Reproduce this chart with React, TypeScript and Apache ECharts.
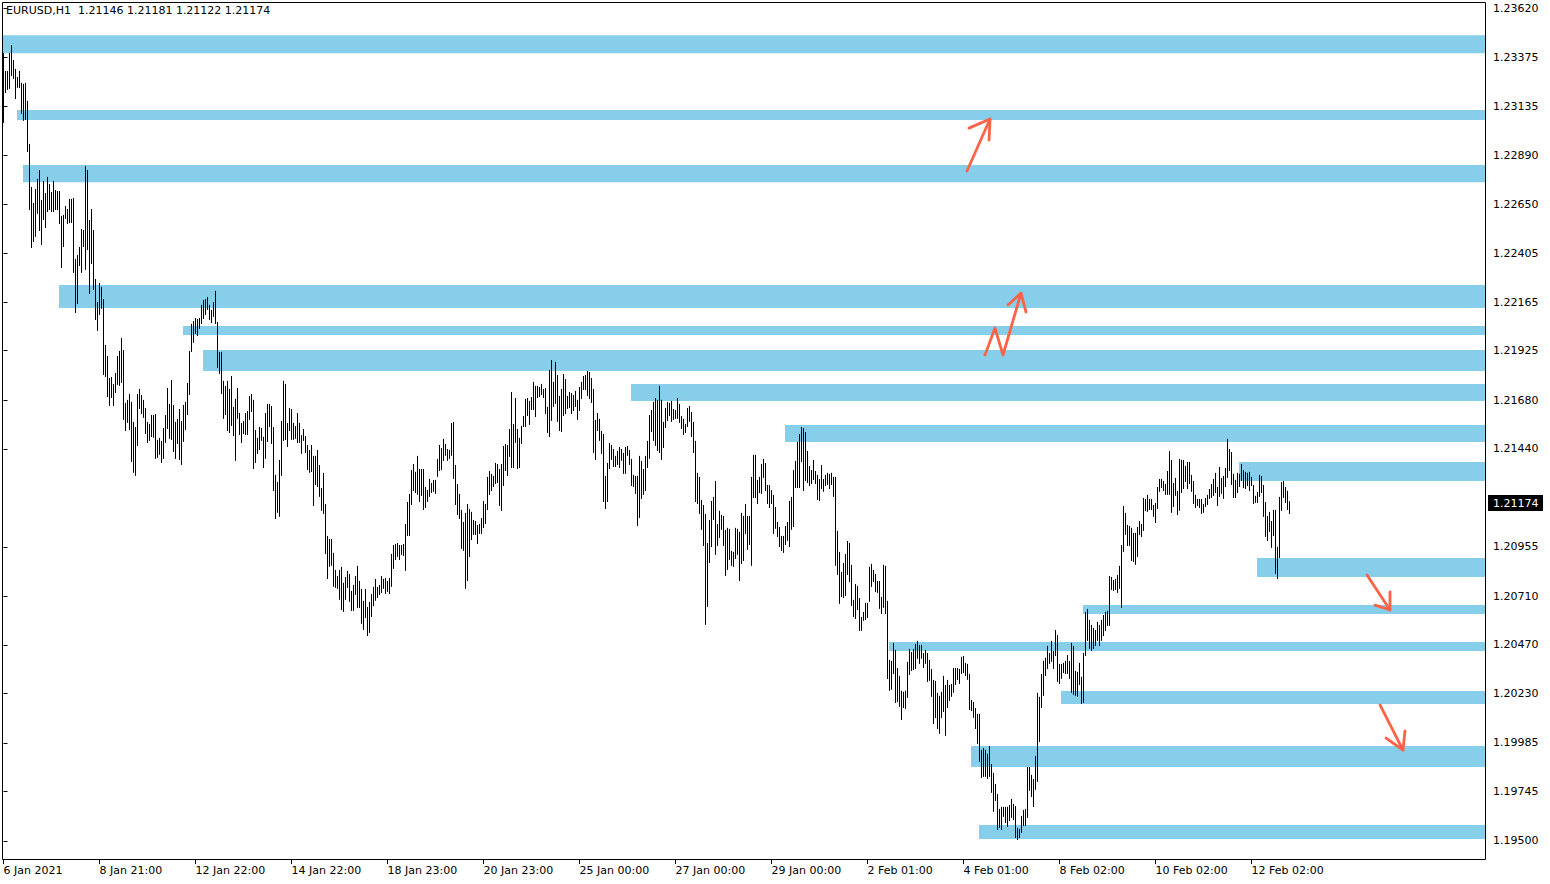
import React, { useEffect, useRef } from "react";
import * as echarts from "echarts";

const FONT = "DejaVu Sans";

const titleText = "EURUSD,H1  1.21146 1.21181 1.21122 1.21174";
const lastPrice = 1.21174;

// hourly bar highs / lows, bar index 0 = 6 Jan 2021 21:00
const barHigh = [
  1.23398,1.23309,1.23309,1.23398,1.23437,1.23363,1.23319,1.23279,1.23309,1.23250,1.23245,1.23250,1.23161,1.22948,1.22735,1.22656,1.22725,1.22775,1.22819,1.22671,
  1.22765,1.22705,1.22785,1.22750,1.22710,1.22765,1.22720,1.22715,1.22715,1.22592,1.22597,1.22641,1.22626,1.22676,1.22676,1.22681,1.22379,1.22399,1.22438,1.22527,
  1.22522,1.22839,1.22819,1.22572,1.22626,1.22522,1.22280,1.22166,1.22260,1.22241,1.22181,1.21954,1.21899,1.21790,1.21795,1.21761,1.21815,1.21899,1.21924,1.21988,
  1.21929,1.21667,1.21682,1.21711,1.21672,1.21573,1.21548,1.21711,1.21736,1.21706,1.21682,1.21642,1.21573,1.21563,1.21607,1.21607,1.21612,1.21484,1.21494,1.21479,
  1.21543,1.21607,1.21741,1.21662,1.21780,1.21657,1.21573,1.21588,1.21637,1.21578,1.21657,1.21672,1.21766,1.21924,1.22058,1.22072,1.22087,1.22082,1.22087,1.22152,
  1.22176,1.22181,1.22191,1.22152,1.22127,1.22166,1.22221,1.22067,1.21919,1.21919,1.21776,1.21751,1.21776,1.21736,1.21800,1.21647,1.21687,1.21741,1.21617,1.21568,
  1.21578,1.21617,1.21627,1.21701,1.21711,1.21682,1.21533,1.21494,1.21548,1.21543,1.21499,1.21617,1.21662,1.21662,1.21652,1.21548,1.21311,1.21276,1.21385,1.21578,
  1.21776,1.21761,1.21568,1.21642,1.21637,1.21568,1.21553,1.21617,1.21568,1.21508,1.21538,1.21503,1.21459,1.21434,1.21459,1.21405,1.21405,1.21434,1.21360,1.21246,
  1.21321,1.21167,1.21009,1.20994,1.20994,1.20925,1.20841,1.20811,1.20841,1.20856,1.20777,1.20806,1.20836,1.20821,1.20737,1.20767,1.20811,1.20861,1.20786,1.20747,
  1.20688,1.20747,1.20658,1.20683,1.20722,1.20757,1.20796,1.20757,1.20767,1.20811,1.20796,1.20801,1.20786,1.20801,1.20920,1.20964,1.20969,1.20974,1.20964,1.20964,
  1.20969,1.21068,1.21177,1.21217,1.21335,1.21365,1.21326,1.21405,1.21340,1.21340,1.21340,1.21251,1.21236,1.21291,1.21271,1.21286,1.21286,1.21390,1.21459,1.21444,
  1.21489,1.21464,1.21439,1.21434,1.21568,1.21573,1.21360,1.21266,1.21217,1.21138,1.21078,1.21123,1.21167,1.21142,1.21128,1.21088,1.21083,1.21063,1.21068,1.21098,
  1.21182,1.21167,1.21301,1.21330,1.21316,1.21306,1.21370,1.21365,1.21340,1.21365,1.21454,1.21464,1.21459,1.21538,1.21721,1.21563,1.21691,1.21538,1.21494,1.21553,
  1.21602,1.21687,1.21691,1.21677,1.21696,1.21771,1.21751,1.21751,1.21746,1.21761,1.21736,1.21741,1.21647,1.21830,1.21879,1.21771,1.21870,1.21805,1.21701,1.21736,
  1.21810,1.21785,1.21701,1.21721,1.21716,1.21706,1.21726,1.21682,1.21746,1.21771,1.21800,1.21805,1.21825,1.21820,1.21790,1.21736,1.21583,1.21617,1.21588,1.21528,
  1.21513,1.21306,1.21370,1.21469,1.21459,1.21439,1.21405,1.21429,1.21449,1.21439,1.21420,1.21449,1.21454,1.21434,1.21390,1.21311,1.21306,1.21306,1.21405,1.21380,
  1.21340,1.21405,1.21479,1.21607,1.21632,1.21672,1.21691,1.21682,1.21751,1.21682,1.21573,1.21642,1.21672,1.21667,1.21677,1.21637,1.21632,1.21691,1.21662,1.21602,
  1.21588,1.21563,1.21642,1.21652,1.21622,1.21573,1.21479,1.21321,1.21301,1.21187,1.21162,1.21117,1.20974,1.21088,1.21182,1.21202,1.21281,1.21068,1.21133,1.21113,
  1.21108,1.21039,1.21049,1.21044,1.20935,1.20930,1.21049,1.21044,1.21029,1.21123,1.21108,1.21167,1.21108,1.21108,1.21301,1.21410,1.21410,1.21286,1.21301,1.21365,
  1.21390,1.21370,1.21261,1.21261,1.21236,1.21212,1.21152,1.21078,1.21053,1.21009,1.21009,1.21058,1.21078,1.21182,1.21202,1.21335,1.21380,1.21474,1.21513,1.21548,
  1.21543,1.21523,1.21429,1.21355,1.21335,1.21385,1.21330,1.21311,1.21291,1.21360,1.21291,1.21311,1.21321,1.21316,1.21321,1.21301,1.21301,1.21034,1.20930,1.20831,
  1.20875,1.20920,1.20984,1.20974,1.20866,1.20693,1.20771,1.20762,1.20702,1.20608,1.20633,1.20678,1.20678,1.20856,1.20871,1.20841,1.20821,1.20786,1.20786,1.20707,
  1.20866,1.20861,1.20688,1.20396,1.20391,1.20480,1.20445,1.20356,1.20317,1.20243,1.20238,1.20243,1.20386,1.20450,1.20435,1.20450,1.20475,1.20490,1.20470,1.20470,
  1.20430,1.20445,1.20430,1.20396,1.20351,1.20297,1.20292,1.20233,1.20218,1.20238,1.20317,1.20272,1.20297,1.20272,1.20277,1.20356,1.20356,1.20356,1.20351,1.20411,
  1.20415,1.20381,1.20376,1.20326,1.20198,1.20188,1.20158,1.20129,1.20129,1.19951,1.19960,1.19951,1.19931,1.19970,1.19881,1.19837,1.19782,1.19733,1.19659,1.19669,
  1.19669,1.19669,1.19669,1.19678,1.19708,1.19683,1.19673,1.19565,1.19560,1.19624,1.19654,1.19659,1.19866,1.19866,1.19827,1.19807,1.19921,1.20233,1.20213,1.20326,
  1.20391,1.20406,1.20465,1.20430,1.20490,1.20440,1.20544,1.20519,1.20376,1.20376,1.20381,1.20391,1.20420,1.20391,1.20480,1.20465,1.20341,1.20336,1.20381,1.20312,
  1.20430,1.20633,1.20648,1.20594,1.20569,1.20554,1.20544,1.20584,1.20569,1.20594,1.20618,1.20633,1.20638,1.20811,1.20806,1.20791,1.20796,1.20816,1.20861,1.20964,
  1.21157,1.21123,1.21063,1.21058,1.21049,1.21024,1.21024,1.21053,1.21083,1.21068,1.21197,1.21192,1.21212,1.21192,1.21192,1.21162,1.21172,1.21251,1.21291,1.21291,
  1.21281,1.21266,1.21330,1.21429,1.21385,1.21271,1.21296,1.21232,1.21390,1.21385,1.21385,1.21355,1.21375,1.21375,1.21311,1.21281,1.21212,1.21192,1.21192,1.21192,
  1.21167,1.21197,1.21212,1.21241,1.21266,1.21291,1.21321,1.21251,1.21350,1.21296,1.21306,1.21345,1.21489,1.21439,1.21424,1.21316,1.21286,1.21321,1.21316,1.21365,
  1.21335,1.21326,1.21321,1.21326,1.21301,1.21261,1.21207,1.21226,1.21311,1.21306,1.21261,1.21177,1.21108,1.21128,1.21083,1.21138,1.21138,1.20955,1.21202,1.21276,
  1.21281,1.21251,1.21232,1.21181
];
const barLow = [
  1.23057,1.23205,1.23220,1.23225,1.23289,1.23274,1.23175,1.23230,1.23230,1.23101,1.23067,1.23071,1.22913,1.22626,1.22438,1.22468,1.22493,1.22607,1.22522,1.22453,
  1.22577,1.22537,1.22616,1.22626,1.22616,1.22616,1.22626,1.22626,1.22557,1.22339,1.22443,1.22582,1.22557,1.22562,1.22562,1.22315,1.22117,1.22161,1.22349,1.22315,
  1.22443,1.22330,1.22428,1.22211,1.22359,1.22231,1.22082,1.22028,1.22107,1.22137,1.21810,1.21800,1.21701,1.21657,1.21696,1.21657,1.21721,1.21761,1.21756,1.21771,
  1.21588,1.21533,1.21573,1.21538,1.21380,1.21326,1.21311,1.21459,1.21642,1.21617,1.21598,1.21518,1.21474,1.21484,1.21503,1.21499,1.21395,1.21400,1.21415,1.21375,
  1.21395,1.21474,1.21543,1.21494,1.21489,1.21429,1.21395,1.21469,1.21390,1.21365,1.21479,1.21538,1.21612,1.21711,1.21924,1.21969,1.22013,1.22003,1.22038,1.22062,
  1.22087,1.22107,1.22132,1.22082,1.22067,1.22097,1.22062,1.21845,1.21815,1.21716,1.21593,1.21612,1.21533,1.21523,1.21558,1.21508,1.21385,1.21593,1.21513,1.21474,
  1.21518,1.21513,1.21513,1.21588,1.21627,1.21345,1.21375,1.21420,1.21439,1.21484,1.21350,1.21395,1.21479,1.21553,1.21469,1.21236,1.21098,1.21128,1.21108,1.21311,
  1.21484,1.21489,1.21454,1.21533,1.21489,1.21489,1.21494,1.21474,1.21474,1.21420,1.21484,1.21424,1.21340,1.21326,1.21330,1.21162,1.21266,1.21256,1.21207,1.21138,
  1.21123,1.20925,1.20801,1.20861,1.20866,1.20762,1.20757,1.20752,1.20698,1.20648,1.20638,1.20698,1.20757,1.20688,1.20643,1.20643,1.20722,1.20658,1.20658,1.20579,
  1.20549,1.20608,1.20519,1.20534,1.20613,1.20667,1.20693,1.20707,1.20722,1.20732,1.20752,1.20727,1.20737,1.20727,1.20762,1.20851,1.20895,1.20910,1.20895,1.20920,
  1.20915,1.20841,1.21014,1.21014,1.21167,1.21236,1.21226,1.21217,1.21182,1.21212,1.21142,1.21152,1.21182,1.21207,1.21226,1.21232,1.21222,1.21306,1.21335,1.21340,
  1.21385,1.21410,1.21385,1.21395,1.21410,1.21296,1.21167,1.21117,1.21098,1.20950,1.20940,1.20752,1.20791,1.20910,1.20994,1.21019,1.21019,1.20974,1.21024,1.21024,
  1.21053,1.21073,1.21142,1.21217,1.21236,1.21256,1.21271,1.21276,1.21162,1.21138,1.21261,1.21335,1.21311,1.21405,1.21350,1.21350,1.21474,1.21345,1.21350,1.21469,
  1.21553,1.21553,1.21607,1.21563,1.21637,1.21637,1.21602,1.21696,1.21701,1.21711,1.21696,1.21617,1.21523,1.21503,1.21583,1.21652,1.21667,1.21578,1.21533,1.21528,
  1.21607,1.21617,1.21642,1.21647,1.21617,1.21632,1.21652,1.21588,1.21632,1.21691,1.21736,1.21736,1.21706,1.21691,1.21672,1.21424,1.21390,1.21533,1.21484,1.21420,
  1.21182,1.21147,1.21182,1.21345,1.21390,1.21355,1.21355,1.21365,1.21350,1.21385,1.21321,1.21321,1.21410,1.21365,1.21261,1.21256,1.21222,1.21063,1.21103,1.21197,
  1.21217,1.21236,1.21350,1.21395,1.21528,1.21484,1.21459,1.21434,1.21424,1.21390,1.21449,1.21548,1.21583,1.21607,1.21578,1.21588,1.21593,1.21593,1.21573,1.21543,
  1.21513,1.21523,1.21553,1.21578,1.21503,1.21424,1.21182,1.21172,1.21123,1.21044,1.20964,1.20574,1.20663,1.20880,1.20959,1.21093,1.20920,1.20964,1.21004,1.21044,
  1.20964,1.20816,1.20846,1.20895,1.20866,1.20861,1.20900,1.20920,1.20791,1.20875,1.20890,1.21024,1.20945,1.20969,1.20866,1.21202,1.21202,1.21172,1.21226,1.21222,
  1.21301,1.21236,1.21172,1.21152,1.21172,1.21024,1.21049,1.21009,1.20959,1.20940,1.20930,1.20969,1.20989,1.20959,1.21044,1.21058,1.21251,1.21251,1.21251,1.21380,
  1.21236,1.21286,1.21276,1.21261,1.21271,1.21291,1.21271,1.21192,1.21187,1.21246,1.21232,1.21261,1.21266,1.21246,1.21266,1.21207,1.20866,1.20821,1.20678,1.20712,
  1.20707,1.20717,1.20821,1.20786,1.20667,1.20613,1.20603,1.20648,1.20544,1.20544,1.20594,1.20598,1.20608,1.20688,1.20762,1.20786,1.20737,1.20732,1.20653,1.20628,
  1.20658,1.20628,1.20306,1.20248,1.20253,1.20331,1.20188,1.20193,1.20168,1.20104,1.20163,1.20158,1.20213,1.20326,1.20346,1.20351,1.20356,1.20406,1.20381,1.20406,
  1.20361,1.20381,1.20292,1.20297,1.20218,1.20084,1.20113,1.20059,1.20035,1.20113,1.20143,1.20025,1.20163,1.20198,1.20218,1.20238,1.20277,1.20302,1.20282,1.20331,
  1.20336,1.20321,1.20302,1.20153,1.20148,1.20114,1.20059,1.19985,1.19896,1.19817,1.19822,1.19822,1.19812,1.19822,1.19743,1.19649,1.19703,1.19560,1.19570,1.19560,
  1.19624,1.19594,1.19575,1.19604,1.19619,1.19609,1.19520,1.19510,1.19520,1.19545,1.19579,1.19579,1.19619,1.19753,1.19723,1.19673,1.19758,1.19797,1.19995,1.20163,
  1.20223,1.20321,1.20356,1.20381,1.20391,1.20356,1.20420,1.20292,1.20282,1.20307,1.20336,1.20331,1.20331,1.20307,1.20238,1.20228,1.20223,1.20218,1.20277,1.20183,
  1.20188,1.20420,1.20495,1.20455,1.20445,1.20455,1.20470,1.20495,1.20470,1.20495,1.20519,1.20544,1.20569,1.20569,1.20747,1.20742,1.20747,1.20732,1.20752,1.20658,
  1.20935,1.21019,1.20964,1.20964,1.20890,1.20885,1.20871,1.20910,1.21019,1.21009,1.21039,1.21138,1.21133,1.21142,1.21142,1.21108,1.21078,1.21147,1.21232,1.21251,
  1.21236,1.21217,1.21217,1.21217,1.21128,1.21157,1.21212,1.21117,1.21138,1.21226,1.21246,1.21281,1.21246,1.21271,1.21232,1.21172,1.21152,1.21162,1.21152,1.21123,
  1.21128,1.21157,1.21167,1.21197,1.21202,1.21212,1.21226,1.21162,1.21207,1.21222,1.21197,1.21256,1.21301,1.21335,1.21266,1.21202,1.21202,1.21226,1.21256,1.21286,
  1.21251,1.21246,1.21261,1.21236,1.21261,1.21172,1.21177,1.21177,1.21207,1.21226,1.21108,1.21009,1.20989,1.21034,1.20955,1.21014,1.20826,1.20801,1.20905,1.21138,
  1.21202,1.21177,1.21142,1.21122
];

// time axis labels (every 48 hourly bars)
const timeTickIndex = [0, 48, 96, 144, 192, 240, 288, 336, 384, 432, 480, 528, 576, 624];
const timeTickLabels = [
  "6 Jan 2021", "8 Jan 21:00", "12 Jan 22:00", "14 Jan 22:00", "18 Jan 23:00", "20 Jan 23:00",
  "25 Jan 00:00", "27 Jan 00:00", "29 Jan 00:00", "2 Feb 01:00", "4 Feb 01:00", "8 Feb 02:00",
  "10 Feb 02:00", "12 Feb 02:00"
];

// price axis labels (1.21195 is hidden behind the last-price box)
const priceTicks = [
  1.195, 1.19745, 1.19985, 1.2023, 1.2047, 1.2071, 1.20955, 1.2144,
  1.2168, 1.21925, 1.22165, 1.22405, 1.2265, 1.2289, 1.23135, 1.23375, 1.2362
];

// support / resistance zones: start bar, top price, bottom price
const zoneStart = [-0.75, 6.75, 9.75, 27.75, 89.75, 99.75, 313.75, 390.75, 617.75, 626.75, 539.75, 442.75, 528.75, 483.75, 487.75];
const zoneTop = [1.23486, 1.23116, 1.22844, 1.2225, 1.22047, 1.21929, 1.2176, 1.21558, 1.21375, 1.209, 1.20667, 1.20484, 1.20242, 1.1997, 1.19579];
const zoneBottom = [1.23397, 1.23066, 1.22759, 1.22136, 1.22003, 1.21825, 1.21676, 1.21473, 1.21281, 1.20806, 1.20623, 1.2044, 1.20178, 1.19866, 1.1951];

// hand-drawn arrows [bar index, price]
const arrow1Shaft = [[481.75, 1.22814], [493.25, 1.23071]];
const arrow1Head = [[482.75, 1.23026], [493.25, 1.23071], [492.75, 1.22967]];
const arrow2Shaft = [[490.75, 1.21904], [495.75, 1.22037], [499.75, 1.21904], [508.75, 1.2221]];
const arrow2Head = [[502.25, 1.22151], [508.75, 1.2221], [511.25, 1.22116]];
const arrow3Shaft = [[681.75, 1.20816], [693.25, 1.20643]];
const arrow3Head = [[685.75, 1.20667], [693.25, 1.20643], [693.25, 1.20732]];
const arrow4Shaft = [[688.25, 1.20173], [699.75, 1.1995]];
const arrow4Head = [[691.25, 1.20009], [699.75, 1.1995], [700.75, 1.20044]];

const X_MIN = -0.75;
const X_MAX = 741.25;
const Y_MIN = 1.19406;
const Y_MAX = 1.2365;
const ARROW_COLOR = "#FF6347";

export default function App() {
  const ref = useRef<HTMLDivElement>(null);

  useEffect(() => {
    document.body.style.margin = "0";
    const chart = echarts.init(ref.current as HTMLDivElement, null, { renderer: "svg" });

    const barData = barHigh.map((h, i) => [i, barLow[i], h]);
    const zones = zoneStart.map((s, k) => [
      { xAxis: s, yAxis: zoneTop[k] },
      { xAxis: X_MAX, yAxis: zoneBottom[k] },
    ]);

    const arrowSeries = [arrow1Shaft, arrow1Head, arrow2Shaft, arrow2Head, arrow3Shaft, arrow3Head, arrow4Shaft, arrow4Head].map((d) => ({
      type: "line",
      data: d,
      showSymbol: false,
      symbol: "none",
      silent: true,
      z: 4,
      lineStyle: { color: ARROW_COLOR, width: 2.8, cap: "round", join: "round" },
    }));

    const baseGraphic: any[] = [
      {
        id: "frame",
        type: "rect",
        z: 100,
        silent: true,
        shape: { x: 2.5, y: 2.5, width: 1483, height: 857 },
        style: { fill: "none", stroke: "#000", lineWidth: 1 },
      },
      {
        id: "title",
        type: "text",
        z: 100,
        left: 6,
        top: 5,
        silent: true,
        style: { text: titleText, fill: "#000", font: `11px "${FONT}"` },
      },
    ];

    const option: any = {
      animation: false,
      textStyle: { fontFamily: FONT },
      grid: { left: 2, top: 2, width: 1484, height: 858, show: false, containLabel: false, outerBoundsMode: "none" },
      xAxis: {
        type: "value",
        min: X_MIN,
        max: X_MAX,
        splitLine: { show: false },
        axisLine: { show: false },
        axisTick: { show: true, customValues: timeTickIndex, length: 4, lineStyle: { color: "#000" } },
        axisLabel: {
          show: true,
          customValues: timeTickIndex,
          formatter: (v: number) => {
            const k = timeTickIndex.indexOf(Math.round(v));
            return k >= 0 ? timeTickLabels[k] : "";
          },
          align: "left",
          margin: 5,
          color: "#000",
          fontSize: 11,
          fontFamily: FONT,
        },
      },
      yAxis: {
        type: "value",
        position: "right",
        min: Y_MIN,
        max: Y_MAX,
        scale: true,
        splitLine: { show: false },
        axisLine: { show: false },
        axisTick: { show: true, customValues: priceTicks, length: 4, lineStyle: { color: "#000" } },
        axisLabel: {
          show: true,
          customValues: priceTicks,
          formatter: (v: number) => v.toFixed(5),
          margin: 7,
          color: "#000",
          fontSize: 11,
          fontFamily: FONT,
        },
      },
      series: [
        {
          type: "custom",
          data: barData,
          encode: { x: 0, y: [1, 2] },
          silent: true,
          z: 3,
          clip: true,
          renderItem: (params: any, api: any) => {
            const i = api.value(0);
            const lo = api.coord([i, api.value(1)]);
            const hi = api.coord([i, api.value(2)]);
            const x = Math.floor(lo[0]) + 0.5;
            return {
              type: "line",
              shape: { x1: x, y1: hi[1], x2: x, y2: lo[1] + 1 },
              style: { stroke: "#000", lineWidth: 1 },
            };
          },
          markArea: {
            silent: true,
            z: 1,
            itemStyle: { color: "#87CEEB", borderWidth: 0 },
            label: { show: false },
            data: zones,
          },
        },
        ...arrowSeries,
      ],
      graphic: baseGraphic,
    };

    chart.setOption(option);

    // last price box on the price scale
    const py = chart.convertToPixel({ yAxisIndex: 0 }, lastPrice) as number;
    const boxY = Math.round(py) - 8;
    chart.setOption({
      graphic: [
        ...baseGraphic,
        {
          id: "priceBox",
          type: "rect",
          z: 101,
          silent: true,
          shape: { x: 1488, y: boxY, width: 55, height: 16 },
          style: { fill: "#000" },
        },
        {
          id: "priceText",
          type: "text",
          z: 102,
          silent: true,
          x: 1493,
          y: boxY + 8,
          style: {
            text: lastPrice.toFixed(5),
            fill: "#fff",
            font: `11px "${FONT}"`,
            textVerticalAlign: "middle",
            verticalAlign: "middle",
          },
        },
      ],
    });

    return () => chart.dispose();
  }, []);

  return <div ref={ref} style={{ width: 1550, height: 884 }} />;
}
